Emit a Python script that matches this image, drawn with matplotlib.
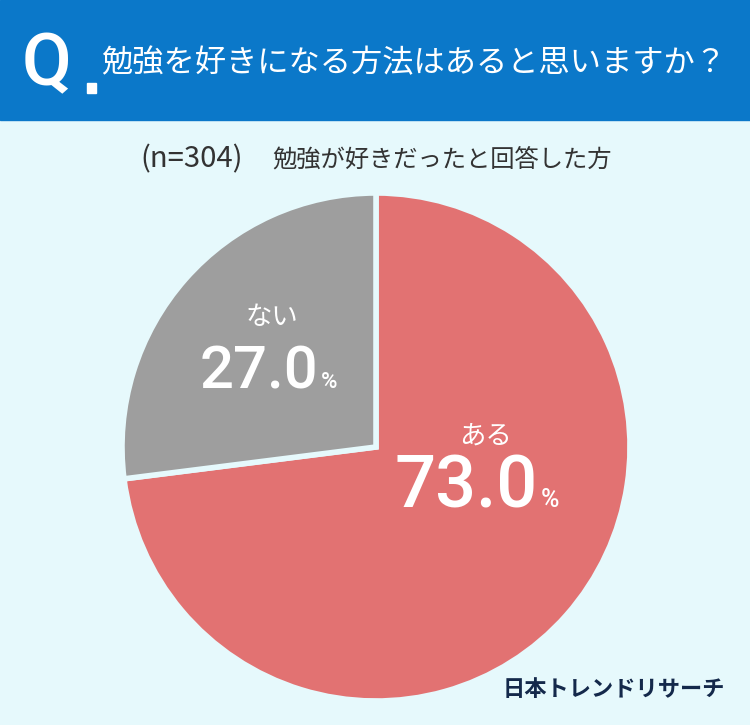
import matplotlib.pyplot as plt
from matplotlib.patches import Rectangle

plt.rcParams['font.family'] = ['Noto Sans CJK JP', 'DejaVu Sans']

question = "勉強を好きになる方法はあると思いますか？"
subtitle_n = "(n=304)"
subtitle = "勉強が好きだったと回答した方"
labels = ["ある", "ない"]
values = [73.0, 27.0]
colors = ["#E27272", "#9E9E9E"]
brand = "日本トレンドリサーチ"

W, H = 750, 725
bg = "#E6F9FC"
fig = plt.figure(figsize=(W / 100, H / 100), dpi=100)
fig.patch.set_facecolor(bg)


def pixel_axes():
    ax = fig.add_axes([0, 0, 1, 1])
    ax.set_xlim(0, W)
    ax.set_ylim(H, 0)
    ax.axis("off")
    ax.patch.set_alpha(0)
    return ax


# header and subtitle
base = pixel_axes()
base.add_patch(Rectangle((0, 0), W, 120, color="#0B78C9", zorder=0))
base.text(22, 66, "Q", color="white", fontsize=52, family="Roboto",
          fontweight="medium", ha="left", va="center")
base.add_patch(Rectangle((87, 83), 9, 10, color="white", zorder=2))
base.text(101, 63, question, color="white", fontsize=22.5, ha="left", va="center")
base.text(140, 159, subtitle_n, color="#333333", fontsize=21, ha="left", va="center")
base.text(272, 159, subtitle, color="#333333", fontsize=17.5, ha="left", va="center")
base.text(725, 690, brand, color="#14294B", fontsize=16, fontweight="bold",
          ha="right", va="center")

# pie
cx, cy, r = 376, 447, 254
pax = fig.add_axes([(cx - r) / W, (H - cy - r) / H, 2 * r / W, 2 * r / H])
pax.pie(values, colors=colors, startangle=90, counterclock=False, radius=1,
        wedgeprops=dict(edgecolor=bg, linewidth=4))
pax.set_xlim(-1, 1)
pax.set_ylim(-1, 1)
pax.set_aspect("equal")
pax.axis("off")

# labels on top of the pie
top = pixel_axes()
top.text(485, 436, labels[0], color="white", fontsize=19, ha="center", va="center")
top.text(538, 488, f"{values[0]:.1f}", color="white", fontsize=52, family="Roboto",
         fontweight="medium", ha="right", va="center")
top.text(541, 500, "%", color="white", fontsize=18, family="Roboto",
         fontweight="medium", ha="left", va="center")

top.text(272, 317, labels[1], color="white", fontsize=19, ha="center", va="center")
top.text(318, 372, f"{values[1]:.1f}", color="white", fontsize=43, family="Roboto",
         fontweight="medium", ha="right", va="center")
top.text(321, 382, "%", color="white", fontsize=16, family="Roboto",
         fontweight="medium", ha="left", va="center")

fig.savefig("out.png", dpi=100, facecolor=bg)
